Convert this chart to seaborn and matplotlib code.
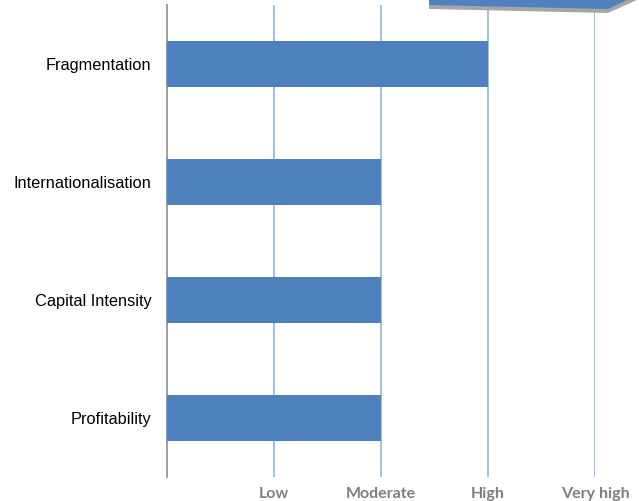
import matplotlib
matplotlib.use("Agg")
import matplotlib.pyplot as plt
import seaborn as sns
import pandas as pd
from matplotlib.patches import Polygon

# factor ratings (1 = Low ... 4 = Very high)
factors = ["Fragmentation", "Internationalisation", "Capital Intensity", "Profitability"]
ratings = [3, 2, 2, 2]
level_labels = ["Low", "Moderate", "High", "Very high"]
level_values = [1, 2, 3, 4]

df = pd.DataFrame({"factor": factors, "rating": ratings})

sns.set_style("white")
plt.rcParams["font.family"] = ["Liberation Sans", "DejaVu Sans"]

fig = plt.figure(figsize=(6.39, 5.01), dpi=100)
ax = fig.add_axes([167 / 639, 1 - 477 / 501, 428 / 639, 472 / 501])

sns.barplot(data=df, x="rating", y="factor", orient="h", color="#4F81BD",
            saturation=1, width=0.39, linewidth=0, ax=ax, zorder=3)

ax.set_xlim(0, 4)
ax.set_ylim(3.5, -0.5)
ax.set_xticks(level_values)
ax.set_xticklabels(level_labels, fontsize=11.5, fontweight="bold",
                   color="#7F7F7F", family=["Lato", "DejaVu Sans"])
ax.tick_params(axis="x", length=0, pad=7)
ax.tick_params(axis="y", length=0, pad=11, labelsize=11.8, labelcolor="black")
ax.set_xlabel("")
ax.set_ylabel("")
for x in level_values:
    ax.axvline(x, color="#8EB4E3", lw=1.2, zorder=1)
for s in ["top", "right", "bottom"]:
    ax.spines[s].set_visible(False)
ax.spines["left"].set_color("#8C8C8C")
ax.spines["left"].set_linewidth(1.2)

# piece of an overlapping shape at the top right
ov = fig.add_axes([0, 0, 1, 1], zorder=10)
ov.set_xlim(0, 639)
ov.set_ylim(501, 0)
ov.axis("off")
ov.add_patch(Polygon([(429, 0), (429, 9), (608, 13), (637, 0)], closed=True,
                     facecolor="#A5A5A5", edgecolor="none"))
ov.add_patch(Polygon([(429, 0), (429, 5), (608, 9), (627, 0)], closed=True,
                     facecolor="#4F81BD", edgecolor="none"))

fig.savefig("out.png", dpi=100)
